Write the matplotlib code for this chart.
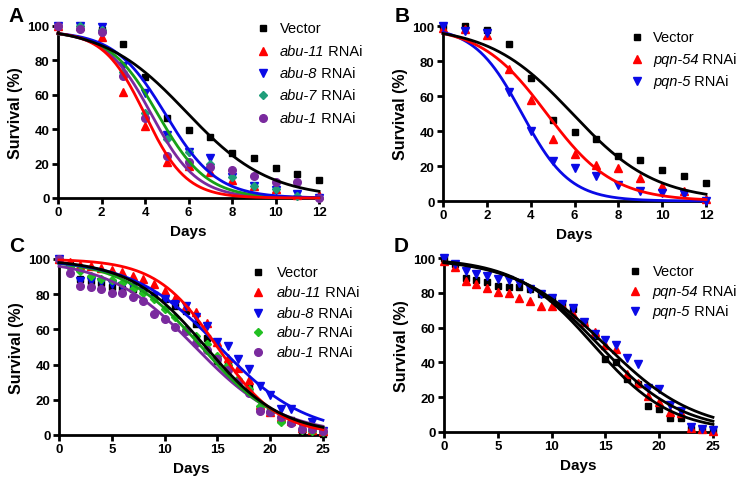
import numpy as np
import matplotlib
matplotlib.use("Agg")
import matplotlib.pyplot as plt

plt.rcParams["font.family"] = ["Liberation Sans", "DejaVu Sans"]

# ---- data ----
days_ab = list(range(13))
days_cd = list(range(26))

vector_ab = [100, 100, 97.5, 89.5, 70.5, 46.3, 39.7, 35.5, 25.9, 23.4, 17.5, 14.2, 10.5]
abu11_a = [100, 100, 93.8, 61.4, 41.7, 20.7, 18.5, 15, 10.5, 7, 5, 2, 2]
abu8_a = [100, 100, 99.2, 76.9, 60.9, 36.6, 27, 23.4, 12, 7, 4.5, 2.3, 0]
abu7_a = [100, 100, 97.5, 73, 49.4, 34.3, 26.5, 19.8, 12.2, 6.8, 5, 1, 0]
abu1_a = [100, 98.4, 96.3, 71, 46.3, 24.6, 21, 18, 16, 12.6, 9.3, 9.1, 0]

pqn54_b = [99, 98.5, 95, 75.4, 57.7, 35.4, 26.9, 20.6, 19, 13, 8.4, 5.5, 1]
pqn5_b = [100, 97.3, 96, 62.5, 39.8, 23, 18.7, 14.1, 9.1, 5.5, 4.4, 4, 0]

vector_cd = [100, 96.5, 88.5, 87.3, 86.4, 84, 83.1, 83.1, 82, 79.3, 77, 73, 70.6,
             63, 54.9, 41.8, 40, 30.3, 27.4, 15, 13, 8.3, 8.3, 1.5, 1.5, 0.6]
abu11_c = [100, 98.1, 96.6, 95.8, 94.7, 93.9, 92.4, 90.5, 88.6, 85.7, 82, 78, 73,
           69.7, 63.6, 53, 44, 38, 31, 17, 13, 10, 8, 4, 3, 2]
abu8_c = [100, 94.3, 87.7, 87.3, 86.7, 85.7, 84.8, 83.9, 82, 79.2, 77.3, 74.4, 73.5,
          67, 62, 53, 50.5, 43.4, 37.5, 28, 22.5, 15, 15, 5, 7.3, 2]
abu7_c = [100, 95.3, 93.4, 90.5, 88.9, 88, 86.1, 82.9, 80.5, 77.3, 71.6, 66.9, 60,
          56, 51.6, 45, 40, 32, 26, 16.6, 13, 7.2, 7.2, 3, 2.5, 1.5]
abu1_c = [100, 92, 84.8, 83.9, 83, 80.7, 80.7, 78.6, 76.3, 68.7, 65.9, 61.1, 59,
          52, 48, 43, 37, 30, 24, 13.8, 12.9, 10, 7, 3.4, 3.4, 2]

pqn54_d = [98, 95, 87, 85, 83, 80.6, 79.8, 77.3, 75.4, 72.6, 72.6, 72.9, 68.1,
           63.3, 57.6, 49.9, 47.6, 33.2, 28.4, 20.7, 17.5, 11.7, 11.1, 2.5, 1.5, 0.6]
pqn5_d = [100, 96.5, 92.3, 90.8, 89.4, 87.9, 87.5, 85.4, 82, 79.3, 76.8, 73.5, 71,
          63.3, 56.2, 52.8, 49.9, 42.4, 39, 25.5, 24.6, 15.5, 12.1, 2.9, 1.9, 1]

# fitted sigmoid curves: (top, midpoint day, slope)
fit_a = {"vector": (100, 5.9, 1.9), "abu11": (97, 4.0, 0.95), "abu8": (97, 4.95, 1.18),
         "abu7": (97, 4.6, 1.12), "abu1": (97, 4.3, 1.05)}
fit_b = {"vector": (100, 5.9, 1.9), "pqn54": (100, 4.73, 1.52), "pqn5": (100, 3.6, 1.09)}
fit_c = {"vector": (100, 13.9, 3.6), "abu11": (100, 15.0, 2.9), "abu8": (100, 15.2, 4.1),
         "abu7": (100, 13.5, 3.7), "abu1": (100, 12.9, 4.1)}
fit_d = {"vector": (100, 13.9, 3.6), "pqn54": (100, 14.4, 3.9), "pqn5": (100, 15.0, 4.2)}


def sigmoid(x, p):
    top, mid, slope = p
    return top / (1 + np.exp((x - mid) / slope))


RED = "#ff0000"
BLUE = "#0a0ae6"
TEAL = "#1f9e7a"
GREEN = "#22c022"
GREEN_LINE = "#18a018"
PURPLE = "#7a2a9e"

fig = plt.figure(figsize=(7.38, 4.81), dpi=100)


def setup(ax, xmax, xstep):
    ax.set_xlim(0, xmax)
    ax.set_ylim(0, 100)
    ax.spines["top"].set_visible(False)
    ax.spines["right"].set_visible(False)
    ax.spines["left"].set_linewidth(2)
    ax.spines["bottom"].set_linewidth(2)
    ax.set_xticks(range(0, xmax + 1, xstep))
    ax.set_yticks(range(0, 101, 20))
    ax.tick_params(width=2, length=4, labelsize=9.5, pad=2)
    for lab in ax.get_xticklabels() + ax.get_yticklabels():
        lab.set_fontweight("bold")
    ax.set_xlabel("Days", fontsize=11, fontweight="bold", labelpad=4)
    ax.set_ylabel("Survival (%)", fontsize=11.5, fontweight="bold", labelpad=3)


def legend(ax, entries, mx, tx, ys):
    for (marker, color, ms, gene, plain), y in zip(entries, ys):
        ax.plot([mx], [y], marker=marker, color=color, ms=ms, ls="none",
                transform=ax.transAxes, clip_on=False)
        if gene:
            t = ax.text(tx, y, gene, style="italic", fontsize=10.5,
                        transform=ax.transAxes, va="center", ha="left")
            ax.annotate(plain, xy=(1, 0), xycoords=t, va="bottom", ha="left",
                        fontsize=10.5)
        else:
            ax.text(tx, y, plain, fontsize=10.5, transform=ax.transAxes,
                    va="center", ha="left")


def draw(ax, days, series, fits, xmax):
    xs = np.linspace(0, xmax, 300)
    for vals, marker, color, ms, key, lcol in series:
        ax.plot(days, vals, marker=marker, color=color, ms=ms, ls="none",
                clip_on=False, zorder=3)
    for vals, marker, color, ms, key, lcol in series[::-1]:
        ax.plot(xs, sigmoid(xs, fits[key]), color=lcol, lw=2, zorder=4,
                clip_on=False)


# Panel A
axA = fig.add_axes([0.0786, 0.5863, 0.3537, 0.3576])
setup(axA, 12, 2)
draw(axA, days_ab, [
    (vector_ab, "s", "black", 5, "vector", "black"),
    (abu11_a, "^", RED, 6, "abu11", RED),
    (abu8_a, "v", BLUE, 6, "abu8", BLUE),
    (abu7_a, "D", TEAL, 4.5, "abu7", GREEN_LINE),
    (abu1_a, "o", PURPLE, 5.5, "abu1", PURPLE),
], fit_a, 12)
legend(axA, [
    ("s", "black", 5, None, "Vector"),
    ("^", RED, 6, "abu-11", " RNAi"),
    ("v", BLUE, 6, "abu-8", " RNAi"),
    ("D", TEAL, 4.5, "abu-7", " RNAi"),
    ("o", PURPLE, 5.5, "abu-1", " RNAi"),
], 0.785, 0.85, [0.988, 0.855, 0.727, 0.599, 0.465])

# Panel B
axB = fig.add_axes([0.6003, 0.58, 0.3564, 0.3638])
setup(axB, 12, 2)
draw(axB, days_ab, [
    (vector_ab, "s", "black", 5, "vector", "black"),
    (pqn54_b, "^", RED, 6, "pqn54", RED),
    (pqn5_b, "v", BLUE, 6, "pqn5", BLUE),
], fit_b, 12)
legend(axB, [
    ("s", "black", 5, None, "Vector"),
    ("^", RED, 6, "pqn-54", " RNAi"),
    ("v", BLUE, 6, "pqn-5", " RNAi"),
], 0.737, 0.798, [0.937, 0.811, 0.686])

# Panel C
axC = fig.add_axes([0.0799, 0.0936, 0.3577, 0.3659])
setup(axC, 25, 5)
draw(axC, days_cd, [
    (vector_cd, "s", "black", 5, "vector", "black"),
    (abu11_c, "^", RED, 6, "abu11", RED),
    (abu8_c, "v", BLUE, 6, "abu8", BLUE),
    (abu7_c, "D", GREEN, 4.5, "abu7", GREEN_LINE),
    (abu1_c, "o", PURPLE, 5.5, "abu1", PURPLE),
], fit_c, 25)
legend(axC, [
    ("s", "black", 5, None, "Vector"),
    ("^", RED, 6, "abu-11", " RNAi"),
    ("v", BLUE, 6, "abu-8", " RNAi"),
    ("D", GREEN, 4.5, "abu-7", " RNAi"),
    ("o", PURPLE, 5.5, "abu-1", " RNAi"),
], 0.754, 0.826, [0.928, 0.814, 0.693, 0.587, 0.470])

# Panel D
axD = fig.add_axes([0.6016, 0.0998, 0.3645, 0.3617])
setup(axD, 25, 5)
draw(axD, days_cd, [
    (vector_cd, "s", "black", 5, "vector", "black"),
    (pqn54_d, "^", RED, 6, "pqn54", "black"),
    (pqn5_d, "v", BLUE, 6, "pqn5", "black"),
], fit_d, 25)
legend(axD, [
    ("s", "black", 5, None, "Vector"),
    ("^", RED, 6, "pqn-54", " RNAi"),
    ("v", BLUE, 6, "pqn-5", " RNAi"),
], 0.71, 0.776, [0.927, 0.809, 0.697])

for letter, x, y in [("A", 0.012, 0.965), ("B", 0.535, 0.965),
                     ("C", 0.012, 0.487), ("D", 0.533, 0.487)]:
    fig.text(x, y, letter, fontsize=15, fontweight="bold", va="center")

fig.savefig("out.png", dpi=100)
